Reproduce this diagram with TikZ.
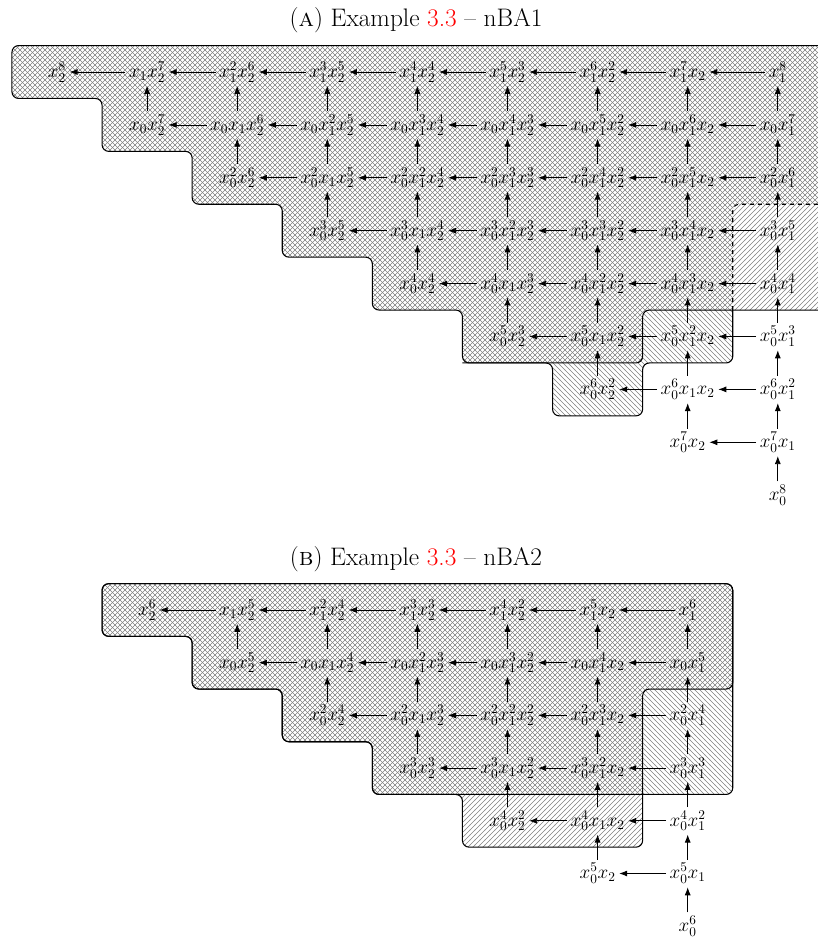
\documentclass[tikz,border=0pt]{standalone}
\usepackage{xcolor}
\usetikzlibrary{arrows.meta,patterns}
\newcommand\mono[3]{\ifnum#1>0 x_0\ifnum#1>1 ^{#1}\fi\fi\ifnum#2>0 x_1\ifnum#2>1 ^{#2}\fi\fi\ifnum#3>0 x_2\ifnum#3>1 ^{#3}\fi\fi}
\pgfdeclarepatternformonly{hatch ne}{\pgfqpoint{-1pt}{-1pt}}{\pgfqpoint{4.75pt}{4.75pt}}{\pgfqpoint{3.75pt}{3.75pt}}{%
  \pgfsetlinewidth{0.3pt}%
  \pgfpathmoveto{\pgfqpoint{-0.1pt}{-0.1pt}}%
  \pgfpathlineto{\pgfqpoint{3.85pt}{3.85pt}}%
  \pgfusepath{stroke}}
\pgfdeclarepatternformonly{hatch nw}{\pgfqpoint{-1pt}{-1pt}}{\pgfqpoint{4.75pt}{4.75pt}}{\pgfqpoint{3.75pt}{3.75pt}}{%
  \pgfsetlinewidth{0.3pt}%
  \pgfpathmoveto{\pgfqpoint{-0.1pt}{3.85pt}}%
  \pgfpathlineto{\pgfqpoint{3.85pt}{-0.1pt}}%
  \pgfusepath{stroke}}
\tikzset{
  mon/.style={inner sep=2.5pt, font=\fontsize{14.5}{17}\selectfont},
  arr/.style={-{Latex[length=6pt,width=4.5pt]}, line width=0.6pt},
  hatchNE/.style={pattern=hatch ne,pattern color=black!50},
  hatchNW/.style={pattern=hatch nw,pattern color=black!50},
  edgeline/.style={line width=0.8pt, rounded corners=5pt},
  ttl/.style={font=\fontsize{19}{22}\selectfont}
}
\begin{document}
\begin{tikzpicture}[x=0.75pt,y=-0.75pt]
\useasboundingbox (0,0) rectangle (818,940);
\node[ttl] (tA) at (416,20) {(\textsc{a}) Example \textcolor{red}{3.3} -- nBA1};
\node[ttl] (tB) at (416,559) {(\textsc{b}) Example \textcolor{red}{3.3} -- nBA2};
% ---------------- regions ----------------
\begin{scope}
\clip (0,0) rectangle (818,940);
\begin{scope}[shift={(42.75pt,-54pt)}, x=67.575pt, y=-39.675pt]
 \path[hatchNE, rounded corners=5pt] (-0.5,-0.5) -- (9.3,-0.5) -- (9.3,4.5) -- (6.5,4.5) -- (6.5,5.5) -- (4.5,5.5) -- (4.5,4.5) -- (3.5,4.5) -- (3.5,3.5) -- (2.5,3.5) -- (2.5,2.5) -- (1.5,2.5) -- (1.5,1.5) -- (0.5,1.5) -- (0.5,0.5) -- (-0.5,0.5) -- cycle;
 \path[hatchNW, rounded corners=5pt] (-0.5,-0.5) -- (9.3,-0.5) -- (9.3,2.5) -- (7.5,2.5) -- (7.5,5.5) -- (6.5,5.5) -- (6.5,6.5) -- (5.5,6.5) -- (5.5,5.5) -- (4.5,5.5) -- (4.5,4.5) -- (3.5,4.5) -- (3.5,3.5) -- (2.5,3.5) -- (2.5,2.5) -- (1.5,2.5) -- (1.5,1.5) -- (0.5,1.5) -- (0.5,0.5) -- (-0.5,0.5) -- cycle;
 \draw[edgeline] (-0.5,-0.5) -- (9.3,-0.5) -- (9.3,4.5) -- (6.5,4.5) -- (6.5,5.5) -- (4.5,5.5) -- (4.5,4.5) -- (3.5,4.5) -- (3.5,3.5) -- (2.5,3.5) -- (2.5,2.5) -- (1.5,2.5) -- (1.5,1.5) -- (0.5,1.5) -- (0.5,0.5) -- (-0.5,0.5) -- cycle;
 \draw[edgeline] (4.5,5.5) -- (5.5,5.5) -- (5.5,6.5) -- (6.5,6.5) -- (6.5,5.5) -- (7.5,5.5) -- (7.5,4.5);
 \draw[edgeline, dashed] (7.5,4.5) -- (7.5,2.5) -- (9.3,2.5);
\end{scope}
\begin{scope}[shift={(42.75pt,-457.5pt)}, x=67.575pt, y=-39.525pt]
 \path[hatchNE, rounded corners=5pt] (0.5,-0.5) -- (7.5,-0.5) -- (7.5,1.5) -- (6.5,1.5) -- (6.5,4.5) -- (4.5,4.5) -- (4.5,3.5) -- (3.5,3.5) -- (3.5,2.5) -- (2.5,2.5) -- (2.5,1.5) -- (1.5,1.5) -- (1.5,0.5) -- (0.5,0.5) -- cycle;
 \path[hatchNW, rounded corners=5pt] (0.5,-0.5) -- (7.5,-0.5) -- (7.5,3.5) -- (3.5,3.5) -- (3.5,2.5) -- (2.5,2.5) -- (2.5,1.5) -- (1.5,1.5) -- (1.5,0.5) -- (0.5,0.5) -- cycle;
 \draw[edgeline] (0.5,-0.5) -- (7.5,-0.5) -- (7.5,1.5) -- (6.5,1.5) -- (6.5,4.5) -- (4.5,4.5) -- (4.5,3.5) -- (3.5,3.5) -- (3.5,2.5) -- (2.5,2.5) -- (2.5,1.5) -- (1.5,1.5) -- (1.5,0.5) -- (0.5,0.5) -- cycle;
 \draw[edgeline] (0.5,-0.5) -- (7.5,-0.5) -- (7.5,3.5) -- (3.5,3.5) -- (3.5,2.5) -- (2.5,2.5) -- (2.5,1.5) -- (1.5,1.5) -- (1.5,0.5) -- (0.5,0.5) -- cycle;
\end{scope}
\end{scope}
% ---------------- Panel A nodes ----------------
\begin{scope}[shift={(42.75pt,-54pt)}, x=67.575pt, y=-39.675pt]
 \foreach \rr in {0,...,8}{
   \pgfmathtruncatemacro\jmax{8-\rr}
   \foreach \jj in {0,...,\jmax}{
     \pgfmathtruncatemacro\kk{8-\rr-\jj}
     \pgfmathtruncatemacro\cc{\rr+\jj}
     \node[mon] (A-\rr-\jj) at (\cc,\rr) {$\mono{\rr}{\jj}{\kk}$};
   }
 }
 \foreach \rr in {0,...,7}{
   \pgfmathtruncatemacro\jmax{7-\rr}
   \foreach \jj in {0,...,\jmax}{
     \pgfmathtruncatemacro\jn{\jj+1}
     \pgfmathtruncatemacro\rn{\rr+1}
     \draw[arr] (A-\rr-\jn) -- (A-\rr-\jj);
     \draw[arr] (A-\rn-\jj) -- (A-\rr-\jn);
   }
 }
\end{scope}
% ---------------- Panel B nodes ----------------
\begin{scope}[shift={(42.75pt,-457.5pt)}, x=67.575pt, y=-39.525pt]
 \foreach \rr in {0,...,6}{
   \pgfmathtruncatemacro\jmax{6-\rr}
   \foreach \jj in {0,...,\jmax}{
     \pgfmathtruncatemacro\kk{6-\rr-\jj}
     \pgfmathtruncatemacro\cc{1+\rr+\jj}
     \node[mon] (B-\rr-\jj) at (\cc,\rr) {$\mono{\rr}{\jj}{\kk}$};
   }
 }
 \foreach \rr in {0,...,5}{
   \pgfmathtruncatemacro\jmax{5-\rr}
   \foreach \jj in {0,...,\jmax}{
     \pgfmathtruncatemacro\jn{\jj+1}
     \pgfmathtruncatemacro\rn{\rr+1}
     \draw[arr] (B-\rr-\jn) -- (B-\rr-\jj);
     \draw[arr] (B-\rn-\jj) -- (B-\rr-\jn);
   }
 }
\end{scope}
\end{tikzpicture}
\end{document}
